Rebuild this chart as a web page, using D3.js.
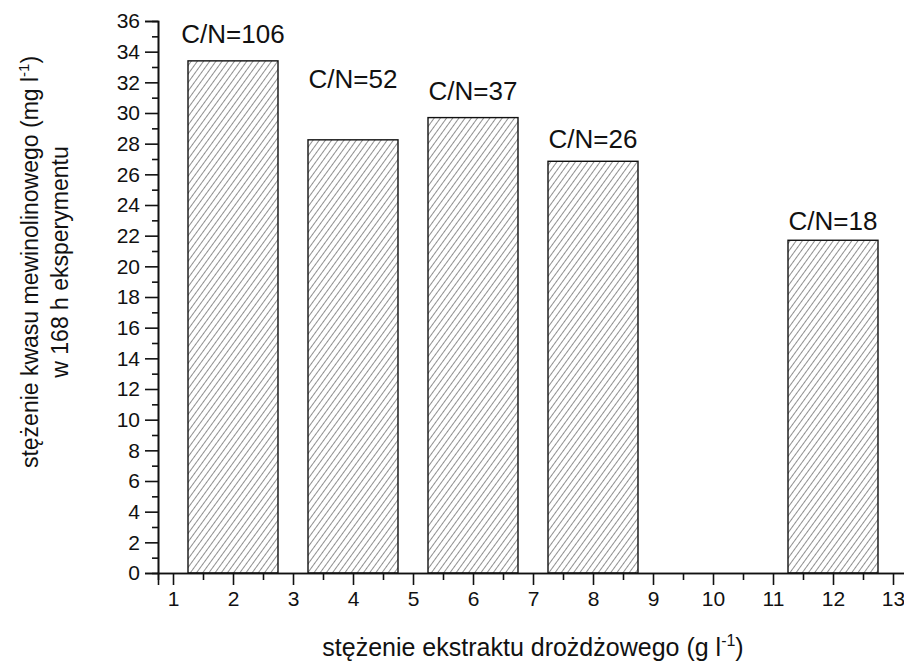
<!DOCTYPE html>
<html>
<head>
<meta charset="utf-8">
<script src="https://cdn.jsdelivr.net/npm/d3@7"></script>
<style>
  body { margin: 0; background: #fff; }
  text { font-family: "Liberation Sans", Arial, sans-serif; fill: #111; }
</style>
</head>
<body>
<div id="chart"></div>
<script>
// data
let xValues = [2, 4, 6, 8, 12];
let yValues = [33.4, 28.25, 29.7, 26.85, 21.7];
let cnLabels = ["C/N=106", "C/N=52", "C/N=37", "C/N=26", "C/N=18"];
let cnLabelY = [34.55, 31.6, 30.85, 27.7, 22.4]; // label baselines, in y units
let xTicks = d3.range(1, 14);
let yTicks = d3.range(0, 37, 2);

let svgWidth = 904;
let svgHeight = 663;

let margin = { top: 21, right: -4, bottom: 90, left: 158 };
let width = svgWidth - margin.left - margin.right;
let height = svgHeight - margin.top - margin.bottom;

let svg = d3.select("#chart")
    .append("svg")
    .attr("width", svgWidth)
    .attr("height", svgHeight);

// hatch fill
let defs = svg.append("defs");
defs.append("pattern")
    .attr("id", "hatch")
    .attr("patternUnits", "userSpaceOnUse")
    .attr("width", 5)
    .attr("height", 5)
    .attr("patternTransform", "rotate(36)")
    .append("line")
    .attr("x1", 0).attr("y1", 0)
    .attr("x2", 0).attr("y2", 5)
    .attr("stroke", "#222")
    .attr("stroke-width", 1);

let chartGroup = svg.append("g")
    .attr("transform", `translate(${margin.left}, ${margin.top})`);

let xScale = d3.scaleLinear()
    .domain([0.75, 13.25])
    .range([0, width]);

let yScale = d3.scaleLinear()
    .domain([0, 36])
    .range([height, 0]);

let barW = xScale(1.5) - xScale(0);

// bars
chartGroup.selectAll("rect.bar")
    .data(xValues)
    .enter()
    .append("rect")
    .attr("class", "bar")
    .attr("x", (d, i) => xScale(d) - barW / 2)
    .attr("y", (d, i) => yScale(yValues[i]))
    .attr("width", barW)
    .attr("height", (d, i) => height - yScale(yValues[i]))
    .attr("fill", "url(#hatch)")
    .attr("stroke", "#111")
    .attr("stroke-width", 1.4);

// C/N labels
chartGroup.selectAll("text.cn")
    .data(cnLabels)
    .enter()
    .append("text")
    .attr("class", "cn")
    .attr("x", (d, i) => xScale(xValues[i]))
    .attr("y", (d, i) => yScale(cnLabelY[i]))
    .attr("text-anchor", "middle")
    .attr("font-size", "26px")
    .text(d => d);

// axes: major + minor ticks
let xAxis = d3.axisBottom(xScale).tickValues(xTicks).tickSize(12).tickPadding(6).tickFormat(d3.format("d"));
let xMinor = d3.axisBottom(xScale).tickValues(d3.range(1.5, 13, 1)).tickSize(7).tickFormat("");
let yAxis = d3.axisLeft(yScale).tickValues(yTicks).tickSize(13).tickPadding(5).tickFormat(d3.format("d"));
let yMinor = d3.axisLeft(yScale).tickValues(d3.range(1, 36, 2)).tickSize(6).tickFormat("");

function styleAxis(g) {
    g.select(".domain").attr("stroke", "#111").attr("stroke-width", 1.6);
    g.selectAll(".tick line").attr("stroke", "#111").attr("stroke-width", 1.6);
    g.selectAll(".tick text").attr("font-size", "21px").attr("font-family", "Liberation Sans, Arial, sans-serif").attr("fill", "#111");
}

chartGroup.append("g")
    .attr("transform", `translate(0, ${height})`)
    .call(xMinor)
    .call(styleAxis);

chartGroup.append("g")
    .attr("transform", `translate(0, ${height})`)
    .call(xAxis)
    .call(styleAxis);

chartGroup.append("g")
    .call(yMinor)
    .call(styleAxis);

chartGroup.append("g")
    .call(yAxis)
    .call(styleAxis);

// axis titles
let xTitle = chartGroup.append("text")
    .attr("x", xScale(7))
    .attr("y", height + 83)
    .attr("text-anchor", "middle")
    .attr("font-size", "25px");
xTitle.append("tspan").text("stężenie ekstraktu drożdżowego (g l");
xTitle.append("tspan").attr("dy", -10).attr("font-size", "16px").text("-1");
xTitle.append("tspan").attr("dy", 10).text(")");

let yTitle = svg.append("g")
    .attr("transform", "translate(0, 262) rotate(-90)");

let yLine1 = yTitle.append("text")
    .attr("x", 0)
    .attr("y", 38)
    .attr("text-anchor", "middle")
    .attr("font-size", "23px");
yLine1.append("tspan").text("stężenie kwasu mewinolinowego (mg l");
yLine1.append("tspan").attr("dy", -9).attr("font-size", "15px").text("-1");
yLine1.append("tspan").attr("dy", 9).text(")");

yTitle.append("text")
    .attr("x", 0)
    .attr("y", 68)
    .attr("text-anchor", "middle")
    .attr("font-size", "23px")
    .text("w 168 h eksperymentu");
</script>
</body>
</html>
